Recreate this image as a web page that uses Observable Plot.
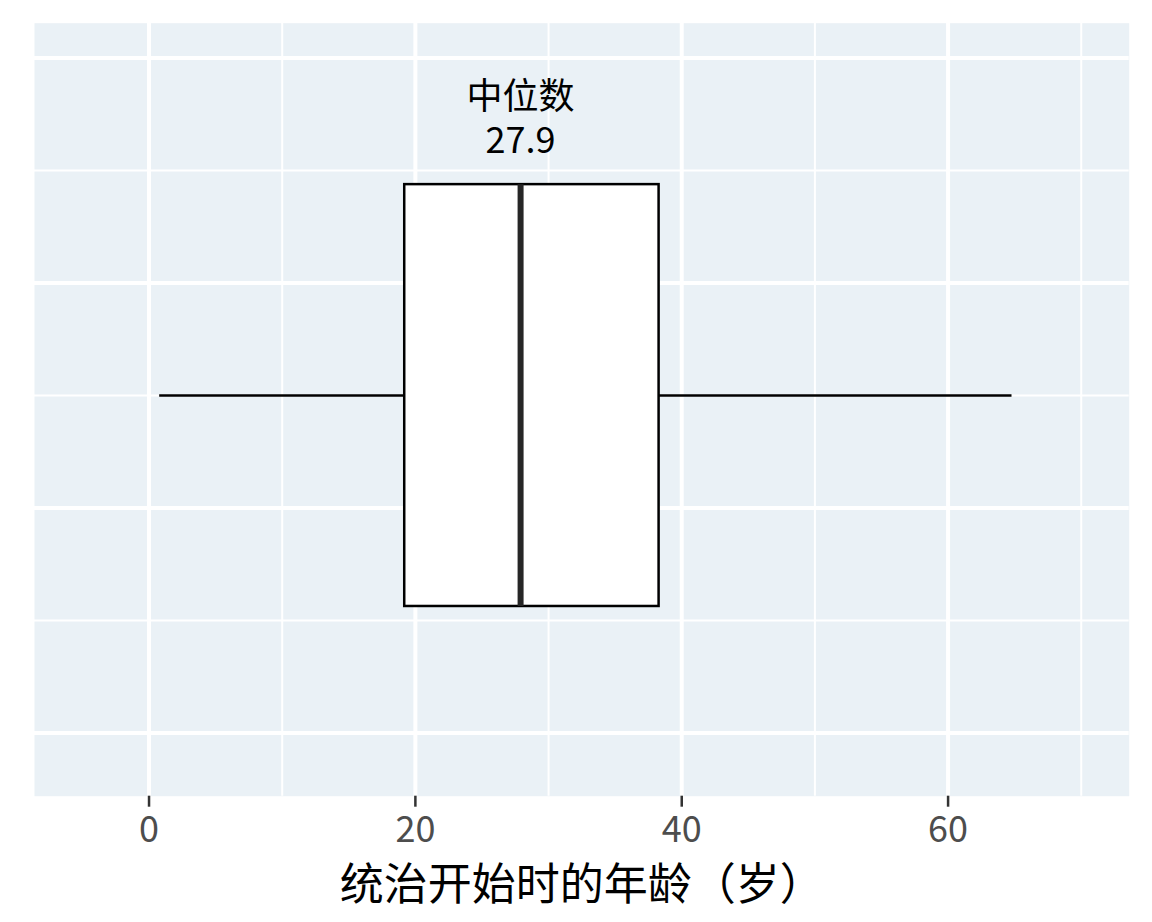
<!DOCTYPE html>
<html>
<head>
<meta charset="utf-8">
<script src="https://cdn.jsdelivr.net/npm/d3@7"></script>
<script src="https://cdn.jsdelivr.net/npm/@observablehq/plot@0.6"></script>
<style>
  html, body { margin: 0; padding: 0; background: #fff; }
  #chart { width: 1152px; height: 922px; }
</style>
</head>
<body>
<div id="chart"></div>
<script>
// Data
const groups = ["统治开始时的年龄"];
const whiskerLow = [0.8];
const quartile1 = [19.2];
const medians = [27.9];
const quartile3 = [38.3];
const whiskerHigh = [64.8];

// Tick values
const xMajorTicks = [0, 20, 40, 60];
const xMinorTicks = [10, 30, 50, 70];
const yMajorTicks = [0.4, 0.8, 1.2, 1.6];
const yMinorTicks = [0.6, 1.0, 1.4];

const axisTitle = "统治开始时的年龄（岁）";
const medianLabel = "中位数";

const rows = groups.map((g, i) => ({
  group: g,
  lo: whiskerLow[i],
  q1: quartile1[i],
  median: medians[i],
  q3: quartile3[i],
  hi: whiskerHigh[i]
}));

const boxCenter = 1.0, boxHalf = 0.375;

const chart = Plot.plot({
  width: 1152,
  height: 922,
  marginLeft: 34,
  marginRight: 23.3,
  marginTop: 22.7,
  marginBottom: 126.3,
  style: { fontFamily: "'Noto Sans CJK SC', 'Noto Sans', sans-serif", background: "white" },
  x: { domain: [-8.6, 73.6], axis: null },
  y: { domain: [0.2877, 1.662], axis: null },
  marks: [
    Plot.frame({ fill: "#EAF1F6", stroke: null }),
    Plot.ruleX(xMinorTicks, { stroke: "white", strokeWidth: 2 }),
    Plot.ruleY(yMinorTicks, { stroke: "white", strokeWidth: 2 }),
    Plot.ruleX(xMajorTicks, { stroke: "white", strokeWidth: 4 }),
    Plot.ruleY(yMajorTicks, { stroke: "white", strokeWidth: 4 }),
    // whiskers
    Plot.ruleY(rows, { y: () => boxCenter, x1: "lo", x2: "q1", stroke: "black", strokeWidth: 2.5 }),
    Plot.ruleY(rows, { y: () => boxCenter, x1: "q3", x2: "hi", stroke: "black", strokeWidth: 2.5 }),
    // box
    Plot.rect(rows, {
      x1: "q1", x2: "q3",
      y1: () => boxCenter - boxHalf, y2: () => boxCenter + boxHalf,
      fill: "white", stroke: "black", strokeWidth: 2.5
    }),
    // median
    Plot.ruleX(rows, {
      x: "median",
      y1: () => boxCenter - boxHalf, y2: () => boxCenter + boxHalf,
      stroke: "#262626", strokeWidth: 6
    }),
    // median annotation
    Plot.text(rows, {
      x: "median",
      text: () => medianLabel,
      frameAnchor: "top",
      dy: 74,
      lineAnchor: "middle",
      fontSize: 36,
      fill: "black"
    }),
    Plot.text(rows, {
      x: "median",
      text: d => `${d.median}`,
      frameAnchor: "top",
      dy: 118,
      lineAnchor: "middle",
      fontSize: 36,
      fill: "black"
    }),
    // x axis
    Plot.axisX(xMajorTicks, {
      tickSize: 11,
      tickPadding: 9,
      fontSize: 36,
      stroke: "#333",
      strokeWidth: 2.5,
      fill: "#4d4d4d",
      label: null
    }),
    // axis title
    Plot.text([axisTitle], {
      frameAnchor: "bottom",
      dy: 90,
      lineAnchor: "middle",
      fontSize: 44,
      fill: "black"
    })
  ]
});

document.getElementById("chart").appendChild(chart);
</script>
</body>
</html>
